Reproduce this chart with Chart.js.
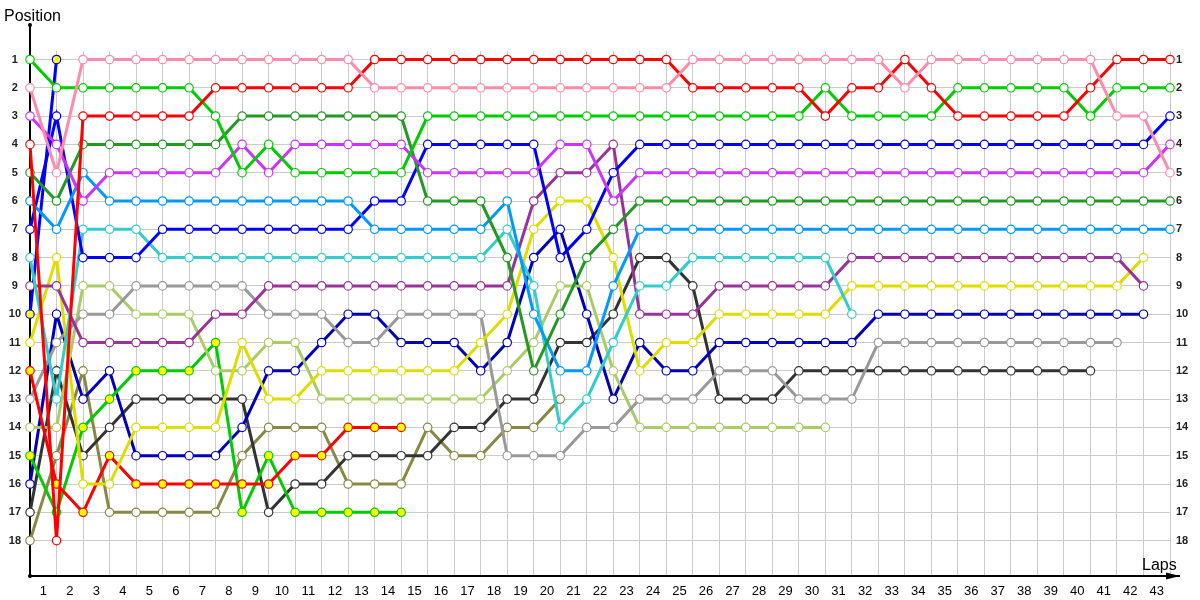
<!DOCTYPE html>
<html>
<head>
<meta charset="utf-8">
<script src="https://cdn.jsdelivr.net/npm/chart.js@4.4.1/dist/chart.umd.min.js"></script>
<style>
html, body { margin: 0; padding: 0; background: #fff; }
#wrap { width: 1200px; height: 600px; }
</style>
</head>
<body>
<div id="wrap"><canvas id="lapChart" width="1200" height="600"></canvas></div>
<script>
// laps run from 0 (grid) to 43, labels sit between the lap lines
const lapTicks = [0,1,2,3,4,5,6,7,8,9,10,11,12,13,14,15,16,17,18,19,20,21,22,23,24,25,26,27,28,29,30,31,32,33,34,35,36,37,38,39,40,41,42,43];
const lapLabels = [1,2,3,4,5,6,7,8,9,10,11,12,13,14,15,16,17,18,19,20,21,22,23,24,25,26,27,28,29,30,31,32,33,34,35,36,37,38,39,40,41,42,43];
const positions = [1,2,3,4,5,6,7,8,9,10,11,12,13,14,15,16,17,18];

// position of each car at the end of every lap, starting with the grid (lap 0)
const pink     = [2,5,1,1,1,1,1,1,1,1,1,1,1,2,2,2,2,2,2,2,2,2,2,2,2,1,1,1,1,1,1,1,1,2,1,1,1,1,1,1,1,3,3,5];
const red      = [4,18,3,3,3,3,3,2,2,2,2,2,2,1,1,1,1,1,1,1,1,1,1,1,1,2,2,2,2,2,3,2,2,1,2,3,3,3,3,3,2,1,1,1];
const green    = [1,2,2,2,2,2,2,3,5,4,5,5,5,5,5,3,3,3,3,3,3,3,3,3,3,3,3,3,3,3,2,3,3,3,3,2,2,2,2,2,3,2,2,2];
const magenta  = [3,4,6,5,5,5,5,5,4,5,4,4,4,4,4,5,5,5,5,5,4,4,6,5,5,5,5,5,5,5,5,5,5,5,5,5,5,5,5,5,5,5,5,4];
const dkGreen  = [5,6,4,4,4,4,4,4,3,3,3,3,3,3,3,6,6,6,8,12,10,8,7,6,6,6,6,6,6,6,6,6,6,6,6,6,6,6,6,6,6,6,6,6];
const ltBlue   = [6,7,5,6,6,6,6,6,6,6,6,6,6,7,7,7,7,7,6,10,12,12,9,7,7,7,7,7,7,7,7,7,7,7,7,7,7,7,7,7,7,7,7,7];
const blue     = [7,3,8,8,8,7,7,7,7,7,7,7,7,6,6,4,4,4,4,4,8,7,5,4,4,4,4,4,4,4,4,4,4,4,4,4,4,4,4,4,4,4,4,3];
const cyan     = [8,13,7,7,7,8,8,8,8,8,8,8,8,8,8,8,8,8,7,9,14,13,11,9,9,8,8,8,8,8,8,10];
const purple   = [9,9,11,11,11,11,11,10,10,9,9,9,9,9,9,9,9,9,9,6,5,5,4,10,10,10,9,9,9,9,9,8,8,8,8,8,8,8,8,8,8,8,9];
const blueY    = [10,1];
const yellow   = [11,8,16,16,14,14,14,14,11,13,13,12,12,12,12,12,12,11,10,7,6,6,8,12,11,11,10,10,10,10,10,9,9,9,9,9,9,9,9,9,9,9,8];
const redY     = [12,16,17,15,16,16,16,16,16,16,15,15,14,14,14];
const gray     = [13,11,10,10,9,9,9,9,9,10,10,10,11,11,10,10,10,10,15,15,15,14,14,13,13,13,12,12,12,13,13,13,11,11,11,11,11,11,11,11,11,11];
const ltGreen  = [14,14,9,9,10,10,10,12,12,11,11,13,13,13,13,13,13,13,12,11,9,9,12,14,14,14,14,14,14,14,14];
const greenY   = [15,17,14,13,12,12,12,11,17,15,17,17,17,17,17];
const navy     = [16,10,13,12,15,15,15,15,14,12,12,11,10,10,11,11,11,12,11,8,7,10,13,11,12,12,11,11,11,11,11,11,10,10,10,10,10,10,10,10,10,10,10];
const dkGray   = [17,12,15,14,13,13,13,13,13,17,16,16,15,15,15,15,14,14,13,13,11,11,10,8,8,9,13,13,13,12,12,12,12,12,12,12,12,12,12,12,12];
const olive    = [18,15,12,17,17,17,17,17,15,14,14,14,16,16,16,14,15,15,14,14,13];

function series(name, arr, color, fill) {
    return {
        label: name,
        data: arr.map(function(p, i){ return {x: lapTicks[i], y: p}; }),
        borderColor: color,
        backgroundColor: fill,
        pointBackgroundColor: fill,
        pointBorderColor: color,
        borderWidth: 3,
        pointRadius: 4.2,
        pointBorderWidth: 1.2,
        tension: 0,
        fill: false,
        clip: false
    };
}

const datasets = [
    series("pink", pink, "#ff8aaa", "#ffffff"),
    series("red", red, "#ff0000", "#ffffff"),
    series("green", green, "#00cc00", "#ffffff"),
    series("magenta", magenta, "#cc33ff", "#ffffff"),
    series("dkGreen", dkGreen, "#229922", "#ffffff"),
    series("ltBlue", ltBlue, "#0099ff", "#ffffff"),
    series("blue", blue, "#0000ff", "#ffffff"),
    series("cyan", cyan, "#33cccc", "#ffffff"),
    series("purple", purple, "#993399", "#ffffff"),
    series("blueY", blueY, "#0000ff", "#ffff00"),
    series("yellow", yellow, "#dddd00", "#ffffff"),
    series("redY", redY, "#ff0000", "#ffff00"),
    series("gray", gray, "#999999", "#ffffff"),
    series("ltGreen", ltGreen, "#aacc66", "#ffffff"),
    series("greenY", greenY, "#00cc00", "#ffff00"),
    series("navy", navy, "#0000bb", "#ffffff"),
    series("dkGray", dkGray, "#333333", "#ffffff"),
    series("olive", olive, "#888844", "#ffffff")
];

// axis lines with arrow + axis titles
const axisDeco = {
    id: "axisDeco",
    beforeDatasetsDraw: function(chart){
        const c = chart.ctx;
        const a = chart.chartArea;
        c.save();
        c.strokeStyle = "#000";
        c.lineWidth = 2;
        c.beginPath();
        c.moveTo(a.left, 25);
        c.lineTo(a.left, a.bottom);
        c.lineTo(a.right + 10, a.bottom);
        c.stroke();
        c.fillStyle = "#000";
        c.beginPath();
        c.arc(a.left, 25, 2, 0, Math.PI * 2);
        c.fill();
        c.beginPath();
        c.arc(a.left, a.bottom, 2, 0, Math.PI * 2);
        c.fill();
        c.beginPath();
        c.moveTo(a.right - 4, a.bottom - 3.5);
        c.lineTo(a.right + 10, a.bottom);
        c.lineTo(a.right - 4, a.bottom + 3.5);
        c.closePath();
        c.fill();
        c.restore();
    },
    afterDraw: function(chart){
        const c = chart.ctx;
        c.save();
        c.fillStyle = "#000";
        c.font = "16px 'Liberation Sans', Arial, sans-serif";
        c.textBaseline = "alphabetic";
        c.textAlign = "left";
        c.fillText("Position", 4, 21);
        c.fillText("Laps", 1142, 570);
        c.restore();
    }
};

const tickFont = { family: "'Liberation Sans', Arial, sans-serif", size: 11, weight: "bold" };

new Chart(document.getElementById("lapChart"), {
    type: "line",
    data: { datasets: datasets },
    plugins: [axisDeco],
    options: {
        responsive: false,
        animation: false,
        devicePixelRatio: 1,
        layout: { padding: { top: 51, left: 0, right: 0, bottom: 0 } },
        plugins: {
            legend: { display: false },
            tooltip: { enabled: false }
        },
        scales: {
            x: {
                type: "linear",
                min: 0,
                max: 43,
                position: "bottom",
                afterBuildTicks: function(s){ s.ticks = lapTicks.map(function(v){ return {value: v}; }); },
                afterFit: function(s){ s.height = 0; },
                grid: { color: "#cccccc", lineWidth: 1, drawTicks: false },
                border: { display: false },
                ticks: { display: false }
            },
            x2: {
                type: "linear",
                min: 0,
                max: 43,
                position: "bottom",
                afterBuildTicks: function(s){ s.ticks = lapLabels.map(function(v){ return {value: v - 0.5}; }); },
                afterFit: function(s){ s.height = 24; },
                grid: { display: false, drawTicks: false },
                border: { display: false },
                ticks: {
                    autoSkip: false,
                    maxRotation: 0,
                    padding: 8,
                    color: "#000",
                    font: { family: "'Liberation Sans', Arial, sans-serif", size: 13 },
                    callback: function(v){ return Math.round(v + 0.5); }
                }
            },
            y: {
                type: "linear",
                reverse: true,
                min: 0.7,
                max: 19.25,
                position: "left",
                afterBuildTicks: function(s){ s.ticks = positions.map(function(v){ return {value: v}; }); },
                afterFit: function(s){ s.width = 30; },
                grid: { color: "#cccccc", lineWidth: 1, drawTicks: false },
                border: { display: false },
                ticks: { crossAlign: "center", padding: 9, color: "#222", font: tickFont }
            },
            y2: {
                type: "linear",
                reverse: true,
                min: 0.7,
                max: 19.25,
                position: "right",
                afterBuildTicks: function(s){ s.ticks = positions.map(function(v){ return {value: v}; }); },
                afterFit: function(s){ s.width = 30; },
                grid: { display: false, drawTicks: false },
                border: { display: false },
                ticks: { padding: 6, color: "#222", font: tickFont }
            }
        }
    }
});
</script>
</body>
</html>
